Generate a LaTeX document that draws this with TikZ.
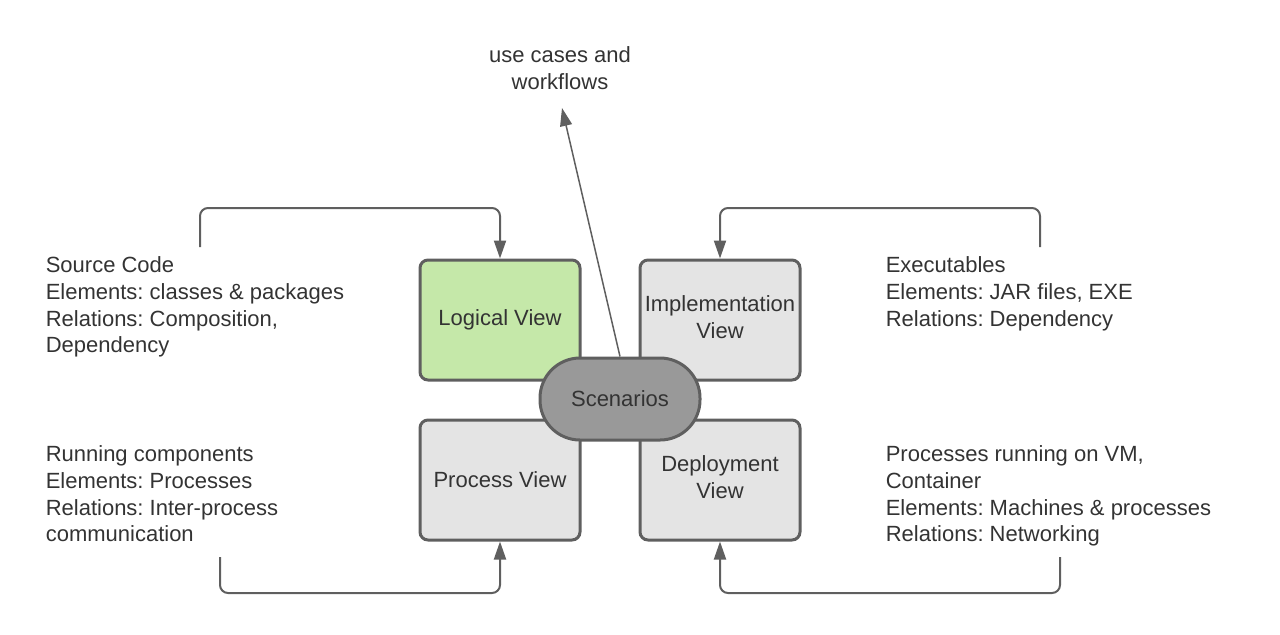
\documentclass[tikz,border=0pt]{standalone}
\usepackage{fontspec}
\setmainfont{Liberation Sans}
\frenchspacing
\usetikzlibrary{arrows.meta,positioning}
\definecolor{linegray}{HTML}{5F5F5F}
\definecolor{boxgray}{HTML}{E4E4E4}
\definecolor{logicgreen}{HTML}{C5E8A9}
\definecolor{scengray}{HTML}{999999}
\definecolor{textgray}{HTML}{333333}

\begin{document}
\begin{tikzpicture}[x=0.5pt,y=-0.5pt,->,>={Stealth[inset=0pt,length=9pt,width=6pt]},thick,
    font=\fontsize{11}{13.35}\selectfont,text=textgray,
    view node/.style={draw=linegray,line width=1.5pt,rounded corners=4pt,minimum width=80pt,minimum height=60pt,align=center,inner sep=0pt},
    note node/.style={align=left,anchor=north west,inner sep=0pt},
    link/.style={draw=linegray,line width=1pt,rounded corners=4pt}]
    \useasboundingbox (0,0) rectangle (1280,634);

    \node[view node,fill=logicgreen] (logical) at (500,320) {Logical View};
    \node[view node,fill=boxgray,text depth=3pt] (impl) at (720,320) {Implementation\\View};
    \node[view node,fill=boxgray] (process) at (500,480) {Process View};
    \node[view node,fill=boxgray,text depth=3pt] (deploy) at (720,480) {Deployment\\View};
    \node[draw=linegray,fill=scengray,line width=1.5pt,rounded corners=20pt,minimum width=80pt,minimum height=41pt,inner sep=0pt] (scen) at (620,399) {Scenarios};

    \node[note node] (logicnote) at (45,256) {Source Code\\Elements: classes \& packages\\Relations: Composition,\\Dependency};
    \node[note node] (implnote) at (885,256) {Executables\\Elements: JAR files, EXE\\Relations: Dependency};
    \node[note node] (procnote) at (45,445) {Running components\\Elements: Processes\\Relations: Inter-process\\communication};
    \node[note node] (depnote) at (885,445) {Processes running on VM,\\Container\\Elements: Machines \& processes\\Relations: Networking};
    \node[align=center,inner sep=0pt] (usecases) at (560,68) {use cases and\\workflows};

    \coordinate (tl) at (200,247);
    \coordinate (tr) at (1040,247);
    \coordinate (bl) at (220,557);
    \coordinate (br) at (1060,557);
    \coordinate (uctip) at (562,108);

    \path[link]
        (tl) -- (200,208) -| (logical.north);
    \path[link]
        (tr) -- (1040,208) -| (impl.north);
    \path[link]
        (bl) -- (220,593) -| (process.south);
    \path[link]
        (br) -- (1060,593) -| (deploy.south);
    \draw[draw=linegray,line width=0.75pt] (scen.north) -- (uctip);
\end{tikzpicture}
\end{document}
